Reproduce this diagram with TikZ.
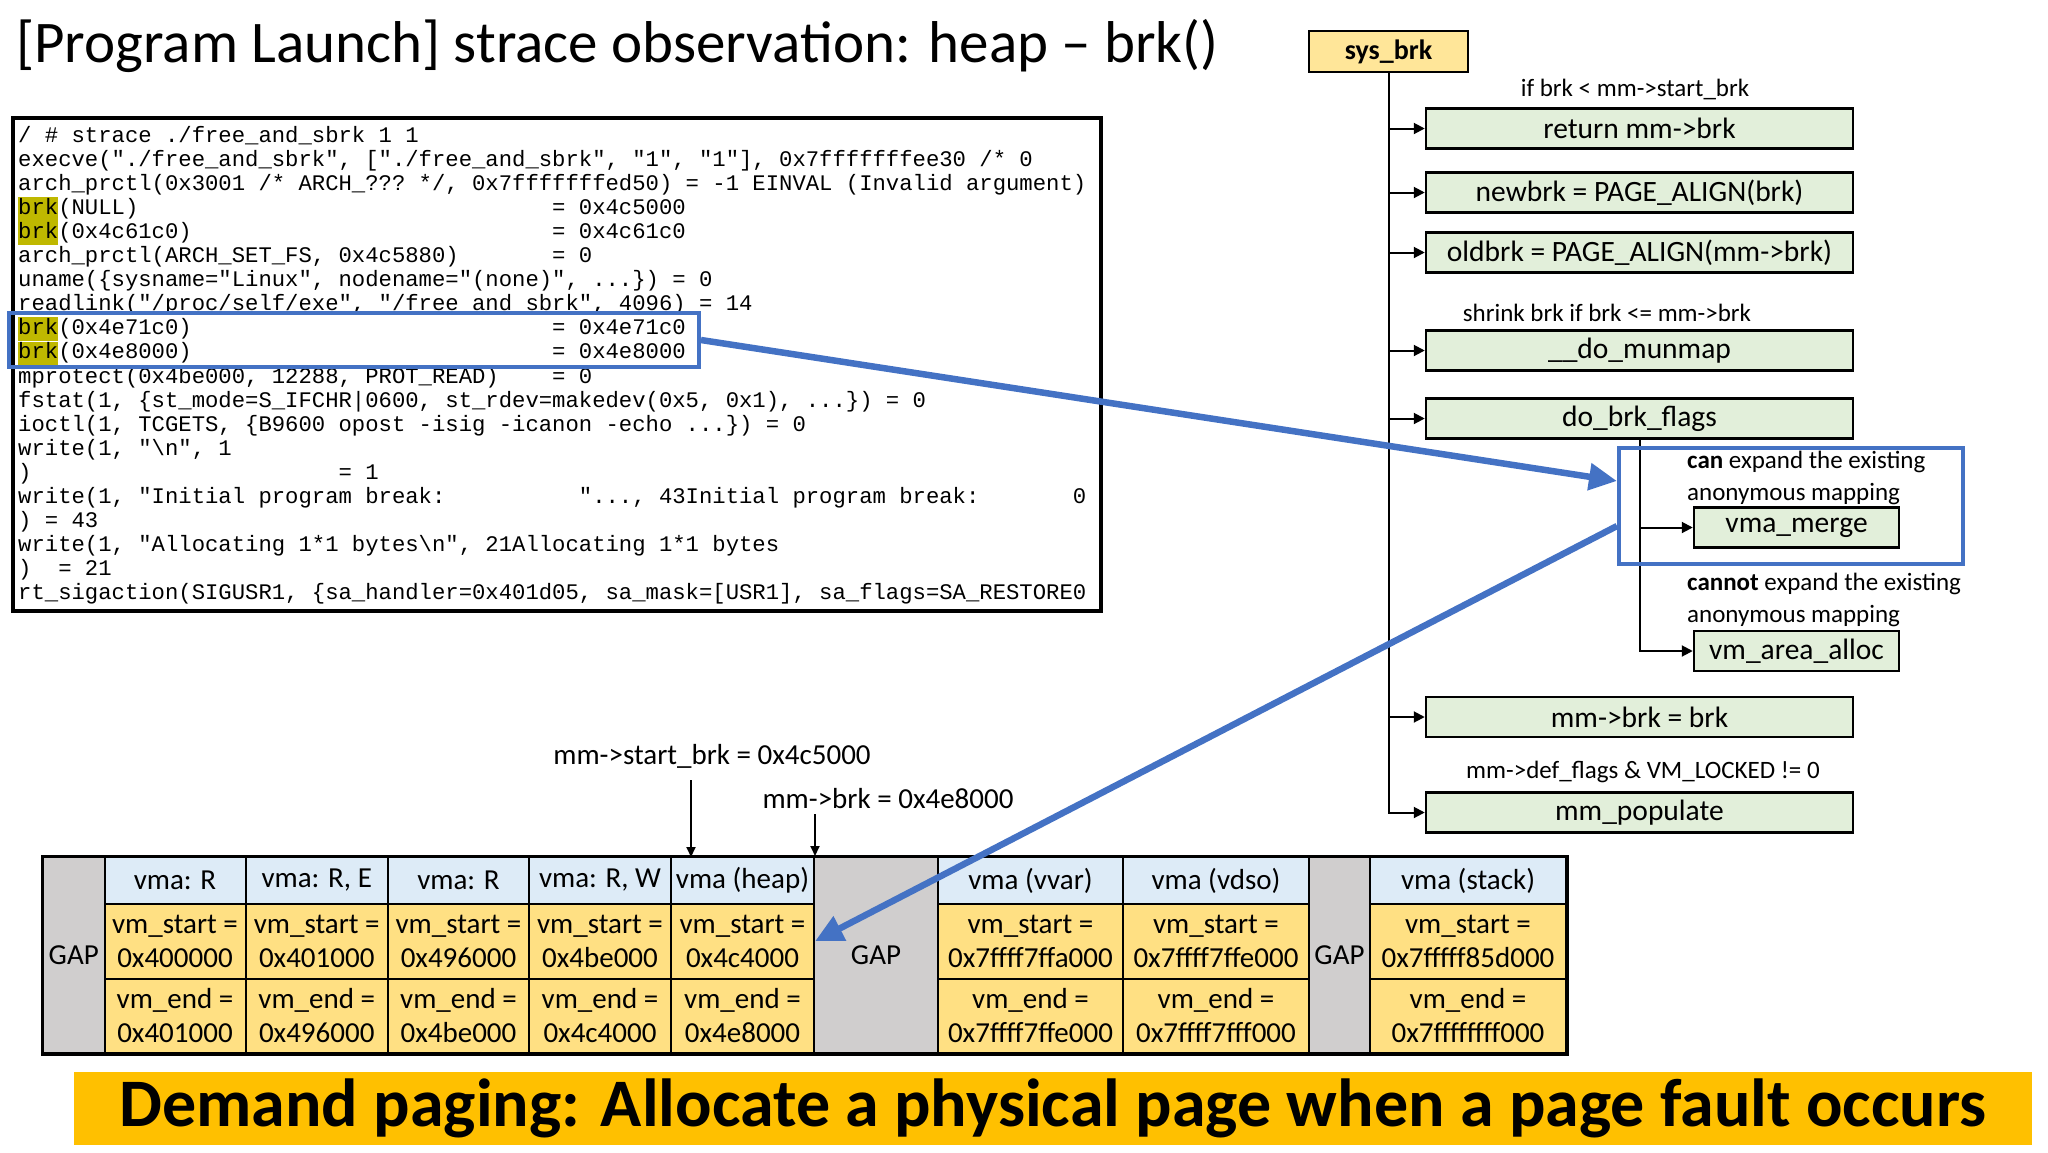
\documentclass[tikz,border=0pt]{standalone}
\usepackage{fontspec}
\setmainfont{Carlito}
\newfontfamily\codefont{Liberation Mono}
\usetikzlibrary{arrows.meta}
\definecolor{fgreen}{HTML}{E2EFDA}
\definecolor{fyellow}{HTML}{FFE699}
\definecolor{cyellow}{HTML}{FFE083}
\definecolor{cblue}{HTML}{DDEBF7}
\definecolor{cgap}{HTML}{D0CECE}
\definecolor{lblue}{HTML}{4472C4}
\definecolor{banner}{HTML}{FFC000}
\definecolor{olive}{HTML}{BFB800}

\begin{document}
\begin{tikzpicture}[x=1pt,y=-1pt,
  sline/.style={anchor=base west,inner sep=0,font=\codefont\fontsize{22.25}{24}\selectfont\frenchspacing},
  box/.style={draw,line width=2.5pt,inner sep=0},
  fn/.style={box,fill=fgreen,minimum width=427,minimum height=40,font=\fontsize{29.5}{34}\selectfont},
  note/.style={inner sep=0,font=\fontsize{25}{32}\selectfont},
  lblm/.style={inner sep=0,font=\fontsize{29}{34}\selectfont},
  call/.style={line width=2pt,-{Triangle[length=11pt,width=11pt]}},
  ptr/.style={line width=1.8pt,-{Triangle[length=10pt,width=9pt]}},
  cell/.style={draw,line width=2pt,inner sep=0,align=center,font=\fontsize{29}{34}\selectfont},
  hdcell/.style={cell,fill=cblue,minimum height=47},
  valcell/.style={cell,fill=cyellow,minimum height=74.5},
  gapcell/.style={cell,fill=cgap,minimum height=196},
  hilite/.style={draw=lblue,line width=4pt,inner sep=0},
  jump/.style={draw=lblue,line width=6.5pt,-{Triangle[length=28pt,width=26pt]}}]
\useasboundingbox (0,0) rectangle (2048,1152);

\node[anchor=west,inner sep=0,font=\fontsize{59}{64}\selectfont] (title) at (16,46) {[Program Launch] strace observation: heap – brk()};

% strace output
\node[draw,line width=4pt,minimum width=1088,minimum height=493,inner sep=0] (term) at (557,364.5) {};
\begin{scope}[xshift=18pt,yshift=-142pt,x=13.35pt,y=-24.1pt]
\foreach \r in {3,4,8,9}
  \fill[olive] (0,\r-0.72) rectangle (3,\r+0.27);
\node[sline] (t0) at (0,0) {/ \# strace ./free\_and\_sbrk 1 1};
\node[sline] (t1) at (0,1) {execve("./free\_and\_sbrk", ["./free\_and\_sbrk", "1", "1"], 0x7fffffffee30 /* 0};
\node[sline] (t2) at (0,2) {arch\_prctl(0x3001 /* ARCH\_??? */, 0x7fffffffed50) = -1 EINVAL (Invalid argument)};
\node[sline] (t3) at (0,3) {brk(NULL)};
\node[sline] (t3r) at (40,3) {= 0x4c5000};
\node[sline] (t4) at (0,4) {brk(0x4c61c0)};
\node[sline] (t4r) at (40,4) {= 0x4c61c0};
\node[sline] (t5) at (0,5) {arch\_prctl(ARCH\_SET\_FS, 0x4c5880)};
\node[sline] (t5r) at (40,5) {= 0};
\node[sline] (t6) at (0,6) {uname(\{sysname="Linux", nodename="(none)", ...\}) = 0};
\node[sline] (t7) at (0,7) {readlink("/proc/self/exe", "/free\_and\_sbrk", 4096) = 14};
\node[sline] (t8) at (0,8) {brk(0x4e71c0)};
\node[sline] (t8r) at (40,8) {= 0x4e71c0};
\node[sline] (t9) at (0,9) {brk(0x4e8000)};
\node[sline] (t9r) at (40,9) {= 0x4e8000};
\node[sline] (t10) at (0,10) {mprotect(0x4be000, 12288, PROT\_READ)};
\node[sline] (t10r) at (40,10) {= 0};
\node[sline] (t11) at (0,11) {fstat(1, \{st\_mode=S\_IFCHR|0600, st\_rdev=makedev(0x5, 0x1), ...\}) = 0};
\node[sline] (t12) at (0,12) {ioctl(1, TCGETS, \{B9600 opost -isig -icanon -echo ...\}) = 0};
\node[sline] (t13) at (0,13) {write(1, "\textbackslash n", 1};
\node[sline] (t14) at (0,14) {)};
\node[sline] (t14r) at (24,14) {= 1};
\node[sline] (t15) at (0,15) {write(1, "Initial program break:};
\node[sline] (t15m) at (42,15) {"..., 43Initial program break:};
\node[sline] (t15r) at (79,15) {0};
\node[sline] (t16) at (0,16) {) = 43};
\node[sline] (t17) at (0,17) {write(1, "Allocating 1*1 bytes\textbackslash n", 21Allocating 1*1 bytes};
\node[sline] (t18) at (0,18) {)};
\node[sline] (t18r) at (3,18) {= 21};
\node[sline] (t19) at (0,19) {rt\_sigaction(SIGUSR1, \{sa\_handler=0x401d05, sa\_mask=[USR1], sa\_flags=SA\_RESTORE0};
\end{scope}
\node[hilite,minimum width=690,minimum height=54] (hl) at (354,340) {};

% sys_brk call tree
\node[box,fill=fyellow,minimum width=159,minimum height=41,font=\bfseries\fontsize{28}{34}\selectfont] (sys) at (1388.5,51.5) {sys\_brk};
\node[fn] (ret) at (1639.5,128.5) {return mm->brk};
\node[fn] (newbrk) at (1639.5,192.5) {newbrk = PAGE\_ALIGN(brk)};
\node[fn] (oldbrk) at (1639.5,252.5) {oldbrk = PAGE\_ALIGN(mm->brk)};
\node[fn] (munmap) at (1639.5,350.5) {\_\_do\_munmap};
\node[fn] (flags) at (1639.5,418.5) {do\_brk\_flags};
\node[fn,minimum width=205] (merge) at (1796.5,527.5) {vma\_merge};
\node[fn,minimum width=205] (alloc) at (1796.5,651) {vm\_area\_alloc};
\node[fn] (setbrk) at (1639.5,717) {mm->brk = brk};
\node[fn] (populate) at (1639.5,812.5) {mm\_populate};
\node[note] (c1) at (1635,89) {if brk < mm->start\_brk};
\node[note] (c2) at (1607,313) {shrink brk if brk <= mm->brk};
\node[note,anchor=west,align=left] (c3) at (1687,478) {\textbf{can} expand the existing\\anonymous mapping};
\node[note,anchor=west,align=left] (c4) at (1687,600) {\textbf{cannot} expand the existing\\anonymous mapping};
\node[note] (c5) at (1643,772) {mm->def\_flags \& VM\_LOCKED != 0};
\draw[call] (sys.south) |- (populate.west);
\foreach \f in {ret,newbrk,oldbrk,munmap,flags,setbrk}
  \draw[call] (sys.south |- \f.west) -- (\f.west);
\draw[call] (flags.south) |- (alloc.west);
\draw[call] (flags.south |- merge.west) -- (merge.west);
\node[hilite,minimum width=344,minimum height=116] (grow) at (1791,506) {};

% vma table
\node[gapcell,minimum width=61.5] (g1) at (73.75,955) {GAP};
\node[gapcell,minimum width=124] (g2) at (876,955) {GAP};
\node[gapcell,minimum width=61] (g3) at (1339.5,955) {GAP};
\foreach \i/\xl/\xr/\hd/\va/\vb in {1/104.5/245.5/{vma: R}/0x400000/0x401000,
    2/245.5/388/{vma: R, E}/0x401000/0x496000, 3/388/529/{vma: R}/0x496000/0x4be000,
    4/529/671/{vma: R, W}/0x4be000/0x4c4000, 5/671/814/{vma (heap)}/0x4c4000/0x4e8000,
    6/938/1123/{vma (vvar)}/0x7ffff7ffa000/0x7ffff7ffe000,
    7/1123/1309/{vma (vdso)}/0x7ffff7ffe000/0x7ffff7fff000,
    8/1370/1566/{vma (stack)}/0x7fffff85d000/0x7ffffffff000}{
  \node[hdcell,minimum width=\xr-\xl] (hd\i) at ({(\xl+\xr)/2},880.5) {\hd};
  \node[valcell,minimum width=\xr-\xl] (st\i) at ({(\xl+\xr)/2},941.25) {vm\_start =\\\va};
  \node[valcell,minimum width=\xr-\xl] (en\i) at ({(\xl+\xr)/2},1015.75) {vm\_end =\\\vb};
}
\draw[line width=3pt] (g1.north west) rectangle (en8.south east);
\node[lblm] (lsb) at (712,756) {mm->start\_brk = 0x4c5000};
\node[lblm] (lbrk) at (888,799) {mm->brk = 0x4e8000};
\coordinate (sb) at (691,857);
\draw[ptr] ([yshift=-12pt]lsb.south -| sb) -- (sb);
\draw[ptr] ([yshift=-5pt]lbrk.south -| hd5.north east) -- (hd5.north east);

% brk calls -> expand heap
\draw[jump] (hl.east) -- ([yshift=-35pt]grow.north west);
\draw[jump] ([yshift=-80pt]grow.north west) -- (st5.east);

\node[fill=banner,minimum width=1958,minimum height=73,inner sep=0,font=\bfseries\fontsize{68}{72}\selectfont] (banner) at (1053,1108.5) {Demand paging: Allocate a physical page when a page fault occurs};
\end{tikzpicture}
\end{document}
